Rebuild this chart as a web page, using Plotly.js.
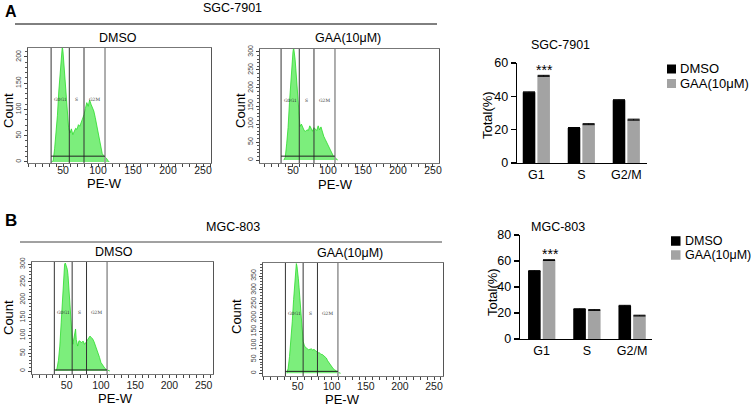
<!DOCTYPE html>
<html>
<head>
<meta charset="utf-8">
<script src="https://cdn.plot.ly/plotly-3.0.1.min.js"></script>
<style>html,body{margin:0;padding:0;background:#fff;}#chart{width:753px;height:406px;}</style>
</head>
<body>
<div id="chart"></div>
<script>
// ---------- DATA ----------
// Flow cytometry histograms (PE-W channel vs count)
const aDmsoX = [34,36,38,40,42,44,46,47,48,49,50,51,52,54,56,58,60,62,64,66,68,70,72,74,76,78,80,82,84,86,88,90,92,94,96,98,100,102,104,106,108,110,112,114,116];
const aDmsoY = [0,3,25,50,88,135,178,195,212,220,210,192,175,135,95,65,55,63,52,60,64,62,71,68,75,80,90,102,113,106,118,110,105,97,85,71,55,38,25,16,12,10,7,3,0];

const aGaaX = [37,39,41,43,45,47,49,50,51,52,53,54,56,58,59,60,62,64,66,68,70,72,74,76,78,80,82,84,86,88,90,92,94,96,98,100,102,104,106,108,110,112,114];
const aGaaY = [0,8,45,90,160,225,275,300,312,300,280,255,205,140,110,93,100,88,82,80,84,82,95,88,80,90,86,82,95,84,92,78,66,58,50,40,30,22,15,10,7,3,0];

const bDmsoX = [34,36,38,40,42,44,46,47,48,49,50,51,52,54,56,58,59,60,62,63,64,66,68,70,72,74,76,78,80,82,84,86,88,90,92,94,96,98,100,102,104,106,108,110,113];
const bDmsoY = [0,8,30,70,135,200,285,300,303,298,295,285,268,200,138,95,75,85,100,118,88,70,85,82,80,84,75,80,86,94,98,94,90,82,72,60,48,38,24,17,11,7,4,2,0];

const bGaaX = [34,36,38,40,42,44,46,47,48,49,50,51,52,54,56,58,60,62,64,66,68,70,72,74,76,78,80,82,84,86,88,90,92,94,96,98,100,102,104,106,108,110,113];
const bGaaY = [0,18,60,115,185,265,350,390,395,385,370,340,310,240,160,115,98,92,88,85,86,88,84,86,82,78,74,74,68,68,63,60,55,45,37,29,22,17,13,9,5,3,0];

// Gate positions and marker levels
const gatesA = [33, 59, 80, 110];
const gatesB = [32, 58, 79, 109];
const gateNames = ['G0G1', 'S', 'G2M'];
const markLevels = [11, 11, 3, 7];

// Histogram axis tick labels
const histXTicks = [50, 100, 150, 200, 250];
const yTicksA1 = [0, 50, 100, 150, 200];
const yTicksA2 = [0, 50, 100, 150, 200, 250, 300];
const yTicksB1 = [0, 50, 100, 150, 200, 250, 300];
const yTicksB2 = [0, 50, 100, 150, 200, 250, 300, 350];

// Bar charts
const phases = ['G1', 'S', 'G2/M'];
const sgcDmso = [42.4, 21.0, 37.7];
const sgcGaa = [52.3, 23.3, 26.0];
const sgcErrD = [0.3, 0.3, 0.3];
const sgcErrG = [0.3, 0.3, 0.3];
const mgcDmso = [52.3, 23.0, 25.6];
const mgcGaa = [60.7, 22.3, 18.0];
const mgcErrD = [0.3, 0.3, 0.3];
const mgcErrG = [0.3, 0.3, 0.3];
const seriesNames = ['DMSO', 'GAA(10μM)'];
const barYTicksA = [0, 20, 40, 60];
const barYTicksB = [0, 20, 40, 60, 80];

// ---------- LAYOUT HELPERS ----------
const W = 753, H = 406;
const FONT = 'Liberation Sans, Arial, Helvetica, sans-serif';
const px = v => v / W;
const py = v => 1 - v / H;
const GREEN_FILL = '#7cee7c';
const GREEN_LINE = '#2bdc2b';
const BLACK = '#000000';
const GREY = '#a3a3a3';

const traces = [];
const shapes = [];
const annotations = [];
const layout = {
  width: W, height: H, autosize: false,
  margin: {l: 0, r: 0, t: 0, b: 0},
  paper_bgcolor: '#fff', plot_bgcolor: '#fff',
  showlegend: false,
  barmode: 'group', bargap: 0.35, bargroupgap: 0.14,
  font: {family: FONT, color: '#000'}
};

function txt(text, x, y, size, opts) {
  annotations.push(Object.assign({
    text: text, x: px(x), y: py(y), xref: 'paper', yref: 'paper',
    xanchor: 'center', yanchor: 'middle', showarrow: false,
    font: {family: FONT, size: size, color: '#000'}
  }, opts || {}));
}

function hist(n, xs, ys, gates, mark, box, xr, yr, yticks, standoff) {
  const xa = n === 1 ? 'x' : 'x' + n;
  const ya = n === 1 ? 'y' : 'y' + n;
  const xk = n === 1 ? 'xaxis' : 'xaxis' + n;
  const yk = n === 1 ? 'yaxis' : 'yaxis' + n;
  traces.push({
    type: 'scatter', mode: 'lines', x: xs, y: ys, xaxis: xa, yaxis: ya,
    fill: 'tozeroy', fillcolor: GREEN_FILL,
    line: {color: GREEN_LINE, width: 0.8}, hoverinfo: 'skip'
  });
  layout[xk] = {
    domain: [px(box[0]), px(box[1])], range: xr, anchor: ya,
    tickmode: 'array', tickvals: histXTicks,
    ticks: 'outside', ticklen: 3, tickcolor: '#444', tickwidth: 1,
    ticklabelstandoff: standoff,
    minor: {tick0: 0, dtick: 10, ticks: 'outside', ticklen: 2.5, tickcolor: '#444', showgrid: false},
    showline: true, mirror: true, linecolor: '#777', linewidth: 1,
    showgrid: false, zeroline: false,
    tickfont: {family: FONT, size: 10.5, color: '#222'}
  };
  layout[yk] = {
    domain: [py(box[3]), py(box[2])], range: yr, anchor: xa,
    tickmode: 'array', tickvals: yticks, tickangle: -90,
    ticks: 'outside', ticklen: 3, tickcolor: '#444', tickwidth: 1,
    minor: {tick0: 0, dtick: 10, ticks: 'outside', ticklen: 2, tickcolor: '#555', showgrid: false},
    showline: true, mirror: true, linecolor: '#555', linewidth: 1,
    showgrid: false, zeroline: false,
    tickfont: {family: FONT, size: 7, color: '#444'}
  };
  gates.forEach((g, i) => {
    shapes.push({
      type: 'line', xref: xa, yref: ya + ' domain', x0: g, x1: g, y0: 0, y1: 1,
      line: {color: i === 3 ? '#9a9a9a' : '#333', width: i === 3 ? 1.6 : 1}
    });
  });
  shapes.push({
    type: 'line', xref: xa, yref: ya, x0: gates[0], x1: gates[3], y0: mark, y1: mark,
    line: {color: '#222', width: 1}
  });
  gateNames.forEach((nm, i) => {
    annotations.push({
      text: nm, xref: xa, yref: ya + ' domain', x: (gates[i] + gates[i + 1]) / 2, y: 0.55,
      showarrow: false, xanchor: 'center', yanchor: 'middle',
      font: {family: 'DejaVu Serif, serif', size: 4.5, color: '#333'}
    });
  });
}

hist(1, aDmsoX, aDmsoY, gatesA, markLevels[0], [28, 211, 48, 163], [0, 261.4], [-2, 217], yTicksA1, -6);
hist(2, aGaaX, aGaaY, gatesA, markLevels[1], [260, 439, 49, 163], [2.9, 258.6], [-8, 308], yTicksA2, -6);
hist(3, bDmsoX, bDmsoY, gatesB, markLevels[2], [32, 213, 262, 374], [-0.6, 263.6], [-8.4, 306], yTicksB1, -2);
hist(4, bGaaX, bGaaY, gatesB, markLevels[3], [263, 443, 263, 376], [-0.9, 263.2], [-9.7, 397], yTicksB2, -3);

function barChart(n, dmso, gaa, errD, errG, box, xr, yr, yticks) {
  const xa = 'x' + n, ya = 'y' + n;
  const common = {type: 'bar', x: phases, xaxis: xa, yaxis: ya, hoverinfo: 'skip'};
  traces.push(Object.assign({}, common, {
    name: seriesNames[0], y: dmso, marker: {color: BLACK, line: {width: 0}},
    error_y: {type: 'data', array: errD, color: '#000', thickness: 1, width: 6}
  }));
  traces.push(Object.assign({}, common, {
    name: seriesNames[1], y: gaa, marker: {color: GREY, line: {width: 0}},
    error_y: {type: 'data', array: errG, color: '#000', thickness: 1, width: 6}
  }));
  layout['xaxis' + n] = {
    domain: [px(box[0]), px(box[1])], range: xr, anchor: ya, type: 'category',
    showline: true, linecolor: '#000', linewidth: 1.3, ticks: '',
    showgrid: false, zeroline: false,
    tickfont: {family: FONT, size: 12.5, color: '#000'}
  };
  layout['yaxis' + n] = {
    domain: [py(box[3]), py(box[2])], range: yr, anchor: xa,
    tickmode: 'array', tickvals: yticks,
    ticks: 'outside', ticklen: 5, tickwidth: 1.3, tickcolor: '#000',
    showline: true, linecolor: '#000', linewidth: 1.3,
    showgrid: false, zeroline: false,
    tickfont: {family: FONT, size: 12.5, color: '#000'}
  };
}

barChart(5, sgcDmso, sgcGaa, sgcErrD, sgcErrG, [517, 647, 63, 163], [-0.43, 2.46], [0, 60], barYTicksA);
barChart(6, mgcDmso, mgcGaa, mgcErrD, mgcErrG, [520, 652, 235, 339], [-0.48, 2.44], [0, 80], barYTicksB);

// significance stars on G1 GAA bars
annotations.push({text: '***', xref: 'x5', yref: 'y5', x: 0.19, y: sgcGaa[0], yanchor: 'bottom', yshift: -4,
  showarrow: false, font: {family: FONT, size: 14, color: '#000'}});
annotations.push({text: '***', xref: 'x6', yref: 'y6', x: 0.19, y: mgcGaa[0], yanchor: 'bottom', yshift: -4,
  showarrow: false, font: {family: FONT, size: 14, color: '#000'}});

// Panel labels and headers
txt('<b>A</b>', 3, 11, 16, {xanchor: 'left'});
txt('<b>B</b>', 3, 220, 17, {xanchor: 'left'});
txt('SGC-7901', 232, 8, 12.5);
txt('MGC-803', 233, 227, 12.5);
shapes.push({type: 'line', xref: 'paper', yref: 'paper', x0: px(15), x1: px(437), y0: py(24), y1: py(24), line: {color: '#000', width: 1}});
shapes.push({type: 'line', xref: 'paper', yref: 'paper', x0: px(20), x1: px(442), y0: py(242), y1: py(242), line: {color: '#444', width: 1}});

// Histogram subtitles and axis titles
txt('DMSO', 118, 38, 12.5);
txt('GAA(10μM)', 348, 38, 12.5);
txt('DMSO', 114, 252, 12.5);
txt('GAA(10μM)', 350, 253, 12.5);
txt('Count', 8, 111, 13, {textangle: -90});
txt('Count', 240, 111, 13, {textangle: -90});
txt('Count', 8, 318, 13, {textangle: -90});
txt('Count', 236, 317, 13, {textangle: -90});
txt('PE-W', 105, 183, 13);
txt('PE-W', 335, 184, 13);
txt('PE-W', 115, 398, 13);
txt('PE-W', 342, 399.5, 13);

// Bar chart titles / axis titles
txt('SGC-7901', 560, 45, 12.5);
txt('MGC-803', 558, 227, 12.5);
txt('Total(%)', 487, 115, 13, {textangle: -90});
txt('Total(%)', 492, 292, 13, {textangle: -90});

// Legends
function legend(x, yRows, sq, fs) {
  [BLACK, GREY].forEach((c, i) => {
    shapes.push({type: 'rect', xref: 'paper', yref: 'paper', x0: px(x), x1: px(x + sq), y0: py(yRows[i] + sq / 2), y1: py(yRows[i] - sq / 2), fillcolor: c, line: {width: 0}});
    txt(seriesNames[i], x + sq + 2, yRows[i], fs, {xanchor: 'left'});
  });
}
legend(667, [69, 83.5], 9, 13);
legend(671, [241, 255], 9.5, 12.5);

layout.shapes = shapes;
layout.annotations = annotations;
Plotly.newPlot('chart', traces, layout, {displayModeBar: false, staticPlot: true});
</script>
</body>
</html>
